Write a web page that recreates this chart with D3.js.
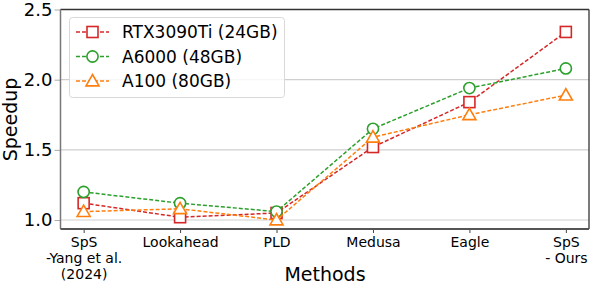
<!DOCTYPE html>
<html><head><meta charset="utf-8">
<script src="https://cdn.jsdelivr.net/npm/d3@7"></script>
<style>html,body{margin:0;padding:0;background:#fff;} svg{display:block;font-family:"DejaVu Sans",sans-serif;}</style>
</head><body>
<svg id="chart" width="590" height="284"></svg>
<script>
const categories = ["SpS\n-Yang et al.\n(2024)", "Lookahead", "PLD", "Medusa", "Eagle", "SpS\n- Ours"];
const rtx3090 = [1.12, 1.02, 1.05, 1.52, 1.84, 2.34];
const a6000 = [1.20, 1.12, 1.06, 1.65, 1.94, 2.08];
const a100 = [1.06, 1.08, 1.00, 1.59, 1.75, 1.89];
const yTicks = [1.0, 1.5, 2.0, 2.5];
const seriesNames = ["RTX3090Ti (24GB)", "A6000 (48GB)", "A100 (80GB)"];

const series = [
  {name: seriesNames[0], values: rtx3090, color: "#d62728", marker: "square"},
  {name: seriesNames[1], values: a6000, color: "#2ca02c", marker: "circle"},
  {name: seriesNames[2], values: a100, color: "#ff7f0e", marker: "triangle"}
];

const svg = d3.select("#chart");
const L = 60.5, R = 589, T = 9.5, B = 229;
const idx = d3.range(categories.length);
const x = d3.scaleLinear().domain([-0.24, categories.length - 1 + 0.24]).range([L, R]);
const y = d3.scaleLinear().domain([0.936, 2.5]).range([B, T]);

// grid
svg.append("g").selectAll("line").data(yTicks).join("line")
  .attr("x1", L).attr("x2", R).attr("y1", d => y(d)).attr("y2", d => y(d))
  .attr("stroke", "#cfcfcf").attr("stroke-width", 1.2);

// y axis
const yAxis = svg.append("g").attr("transform", `translate(${L},0)`)
  .call(d3.axisLeft(y).tickValues(yTicks).tickFormat(d3.format(".1f")).tickSize(6).tickPadding(2));
yAxis.select(".domain").remove();
yAxis.selectAll(".tick line").attr("stroke", "#aaa");
yAxis.selectAll("text").attr("font-size", 18).attr("fill", "#000").attr("font-family", "DejaVu Sans");

// x axis
const xAxis = svg.append("g").attr("transform", `translate(0,${B})`)
  .call(d3.axisBottom(x).tickValues(idx).tickFormat("").tickSize(4));
xAxis.select(".domain").remove();
xAxis.selectAll(".tick line").attr("stroke", "#444");
xAxis.selectAll(".tick").each(function(d) {
  const lines = categories[d].split("\n");
  const t = d3.select(this).append("text").attr("fill", "#000").attr("font-size", 14)
    .attr("font-family", "DejaVu Sans").attr("text-anchor", "middle");
  lines.forEach((s, i) => t.append("tspan").attr("x", 0).attr("y", 18 + i * 16).text(s));
});

// frame
svg.append("line").attr("x1", L).attr("x2", R).attr("y1", T).attr("y2", T).attr("stroke", "#333").attr("stroke-width", 1.3);
svg.append("line").attr("x1", R).attr("x2", R).attr("y1", T).attr("y2", B).attr("stroke", "#333").attr("stroke-width", 1.3);
svg.append("line").attr("x1", L).attr("x2", L).attr("y1", T).attr("y2", B).attr("stroke", "#777").attr("stroke-width", 1.5);
svg.append("line").attr("x1", L).attr("x2", R).attr("y1", B).attr("y2", B).attr("stroke", "#555").attr("stroke-width", 2);

function drawMarker(g, type, cx, cy, color) {
  if (type === "square") {
    g.append("rect").attr("x", cx - 5.5).attr("y", cy - 5.5).attr("width", 11).attr("height", 11)
      .attr("fill", "white").attr("stroke", color).attr("stroke-width", 1.6);
  } else if (type === "circle") {
    g.append("circle").attr("cx", cx).attr("cy", cy).attr("r", 5.6)
      .attr("fill", "white").attr("stroke", color).attr("stroke-width", 1.6);
  } else {
    const s = 6.5;
    g.append("path").attr("d", `M${cx},${cy - s}L${cx + s},${cy + s * 0.75}L${cx - s},${cy + s * 0.75}Z`)
      .attr("fill", "white").attr("stroke", color).attr("stroke-width", 1.6).attr("stroke-linejoin", "miter");
  }
}

const line = d3.line().x((d, i) => x(i)).y(d => y(d));
series.forEach(s => {
  const g = svg.append("g");
  g.append("path").datum(s.values).attr("d", line).attr("fill", "none")
    .attr("stroke", s.color).attr("stroke-width", 1.5).attr("stroke-dasharray", "4,2");
  s.values.forEach((v, i) => drawMarker(g, s.marker, x(i), y(v), s.color));
});

// legend
const lg = svg.append("g");
lg.append("rect").attr("x", 69.5).attr("y", 17.5).attr("width", 215).attr("height", 80).attr("rx", 3)
  .attr("fill", "white").attr("fill-opacity", 0.8).attr("stroke", "#d9d9d9").attr("stroke-width", 1);
series.forEach((s, i) => {
  const cy = 32 + i * 24.5;
  lg.append("line").attr("x1", 76).attr("x2", 109).attr("y1", cy).attr("y2", cy)
    .attr("stroke", s.color).attr("stroke-width", 1.5).attr("stroke-dasharray", "4,2");
  drawMarker(lg, s.marker, 92.5, cy, s.color);
  lg.append("text").attr("x", 122).attr("y", cy + 6).attr("font-size", 17).attr("fill", "#000").text(s.name);
});

// axis labels
svg.append("text").attr("x", 325).attr("y", 281).attr("text-anchor", "middle").attr("font-size", 19).text("Methods");
svg.append("text").attr("transform", "translate(17,119.5) rotate(-90)").attr("text-anchor", "middle").attr("font-size", 19).text("Speedup");
</script>
</body></html>
